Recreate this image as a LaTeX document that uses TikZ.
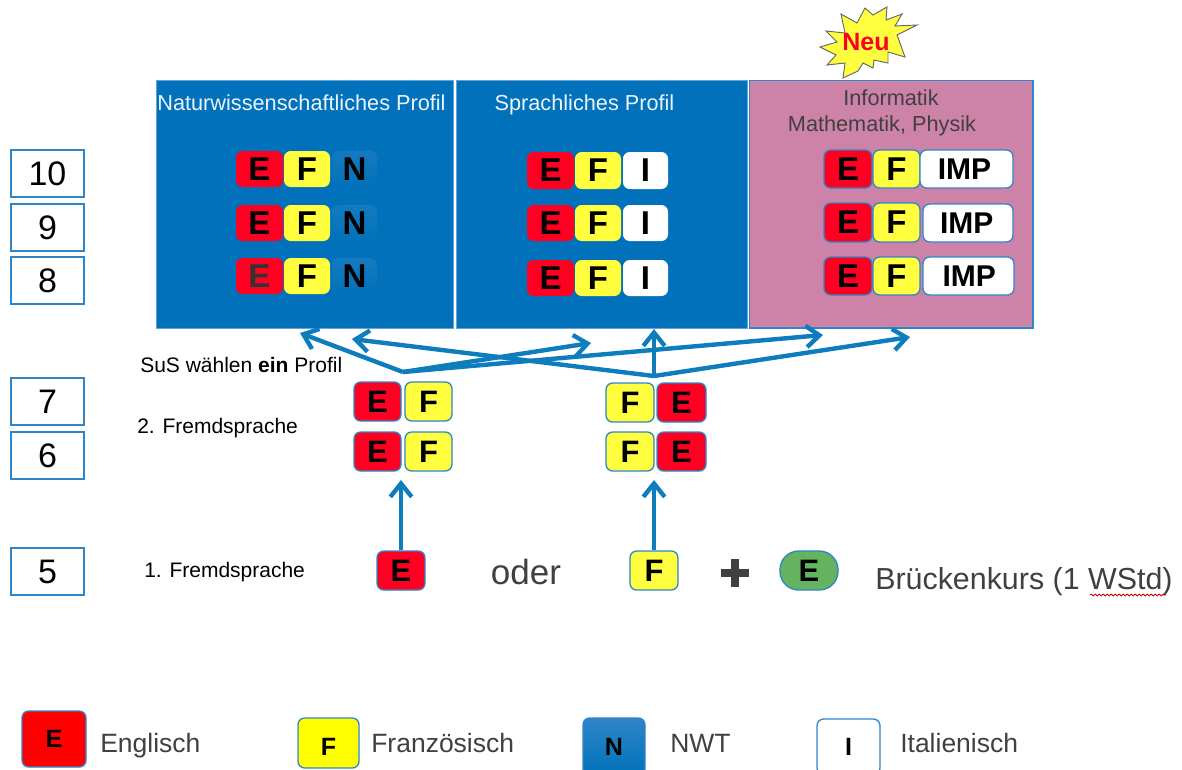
\documentclass[tikz,border=0pt]{standalone}
\usepackage{fontspec}
\setmainfont{Liberation Sans}
\usetikzlibrary{arrows.meta,decorations.pathmorphing}
\definecolor{panelblue}{HTML}{0071BA}
\definecolor{panelpink}{HTML}{CD82A8}
\definecolor{tred}{HTML}{FF0022}
\definecolor{tyellow}{HTML}{FFFF40}
\definecolor{pureyellow}{RGB}{255,255,0}
\definecolor{purered}{RGB}{255,0,0}
\definecolor{edgeblue}{HTML}{2E86C8}
\definecolor{arrowblue}{HTML}{0E7DBD}
\definecolor{txtgray}{HTML}{404040}
\definecolor{staryellow}{HTML}{FFFF40}
\definecolor{tgreen}{HTML}{66B35F}
\newcommand{\pxfont}[1]{\fontsize{\dimexpr #1pt*3/4\relax}{\dimexpr #1pt*9/10\relax}\selectfont}
\tikzset{
  x=0.75pt,y=-0.75pt,
  tilebase/.style={rounded corners=5pt,inner sep=0pt,font=\pxfont{33}\bfseries,text=black},
  redtile/.style={tilebase,fill=tred},
  yellowtile/.style={tilebase,fill=tyellow},
  nwttile/.style={tilebase,top color=edgeblue!45!panelblue,bottom color=panelblue},
  whitetile/.style={tilebase,fill=white},
  edged/.style={draw=edgeblue,line width=1pt},
  midfont/.style={font=\pxfont{31}\bfseries},
  impfont/.style={font=\pxfont{30}\bfseries},
  legendfont/.style={font=\pxfont{25}\bfseries},
  panel/.style={draw=edgeblue!75!white,line width=0.75pt,inner sep=0pt},
  yearbox/.style={draw=edgeblue,line width=1pt,fill=white,inner sep=0pt,font=\pxfont{34}},
  plainlabel/.style={inner sep=0pt,anchor=base west,font=\pxfont{21},text=black},
  legendlabel/.style={inner sep=0pt,anchor=base west,font=\pxfont{26.5},text=txtgray},
  title/.style={inner sep=0pt,anchor=base,font=\pxfont{21.7}},
  flow/.style={draw=arrowblue,line width=3.3pt,-{Straight Barb[length=10pt,width=16pt,line width=3.3pt]}},
}
% \boxat{style}{name}{x1}{y1}{x2}{y2}{text}
\newcommand{\boxat}[7]{%
  \pgfmathsetmacro{\bw}{(#5-#3)*0.75}\pgfmathsetmacro{\bh}{(#6-#4)*0.75}%
  \node[#1,minimum width=\bw pt,minimum height=\bh pt] (#2) at ({(#3+#5)/2},{(#4+#6)/2}) {#7};}
\begin{document}
\begin{tikzpicture}
\useasboundingbox (0,0) rectangle (1182,769);
% panels
\boxat{panel,fill=panelblue}{pn}{156.5}{80.5}{453}{328}{}
\boxat{panel,fill=panelblue}{ps}{456.5}{80.5}{747}{328}{}
\boxat{panel,fill=panelpink,draw=edgeblue,line width=1pt}{pi}{749.5}{80.5}{1033}{328}{}
\node[title,text=white!92!panelblue] (tn) at (301.5,110) {Naturwissenschaftliches Profil};
\node[title,text=white!92!panelblue] (ts) at (584.5,110) {Sprachliches Profil};
\node[title,text=txtgray] (ti1) at (891,105) {Informatik};
\node[title,text=txtgray] (ti2) at (882,131) {Mathematik, Physik};
% star
\draw[draw=gray!80!black,line width=0.7pt,fill=staryellow,line join=miter]
 (865,8)--(873,15)--(887,7)--(886,20)--(902,14)--(895,26)--(917,25)--(897,35)--(905,57)--(888,52)--(888,63)--(874,60)--(873,68)--(863,63)--(858,71)--(843,78)--(845,63)--(827,65)--(836,55)--(820,47)--(837,42)--(826,31)--(845,33)--(841,14)--(857,23)--cycle;
\node[inner sep=0pt,font=\pxfont{25}\bfseries,text=tred] (neu) at (866,42) {Neu};
% naturwissenschaftlich
\boxat{redtile}{ne1}{236}{151}{283}{187}{E}
\boxat{yellowtile}{nf1}{284}{151}{330}{187}{F}
\boxat{nwttile}{nn1}{332}{151}{377}{187}{N}
\boxat{redtile}{ne2}{236}{205}{283}{241}{E}
\boxat{yellowtile}{nf2}{284}{205}{330}{241}{F}
\boxat{nwttile}{nn2}{332}{205}{377}{241}{N}
\boxat{redtile,text=black!80}{ne3}{236}{258}{283}{294}{E}
\boxat{yellowtile}{nf3}{284}{258}{330}{294}{F}
\boxat{nwttile}{nn3}{332}{258}{377}{294}{N}
% sprachlich
\boxat{redtile}{se1}{527}{152}{574}{189}{E}
\boxat{yellowtile}{sf1}{575}{152}{621}{189}{F}
\boxat{whitetile}{si1}{623}{152}{668}{189}{I}
\boxat{redtile}{se2}{527}{205}{574}{241}{E}
\boxat{yellowtile}{sf2}{575}{205}{621}{241}{F}
\boxat{whitetile}{si2}{623}{205}{668}{241}{I}
\boxat{redtile}{se3}{527}{260}{574}{296}{E}
\boxat{yellowtile}{sf3}{575}{260}{621}{296}{F}
\boxat{whitetile}{si3}{623}{260}{668}{296}{I}
% IMP
\boxat{redtile,edged}{ie1}{824}{150}{872}{188}{E}
\boxat{yellowtile,edged}{if1}{873}{150}{920}{188}{F}
\boxat{whitetile,edged,impfont}{ii1}{920}{150}{1013}{188}{\hspace{-3pt}IMP}
\boxat{redtile,edged}{ie2}{824}{203}{872}{242}{E}
\boxat{yellowtile,edged}{if2}{873}{203}{920}{242}{F}
\boxat{whitetile,edged,impfont}{ii2}{923}{204}{1013}{242}{\hspace{-2pt}IMP}
\boxat{redtile,edged}{ie3}{824}{257}{872}{295}{E}
\boxat{yellowtile,edged}{if3}{873}{257}{920}{295}{F}
\boxat{whitetile,edged,impfont}{ii3}{923}{257}{1014}{295}{\hspace{1pt}IMP}
% year boxes
\boxat{yearbox}{y10}{11}{150}{84}{197}{10}
\boxat{yearbox}{y9}{11}{204}{84}{251}{9}
\boxat{yearbox}{y8}{11}{257}{84}{304}{8}
\boxat{yearbox}{y7}{11}{378}{84}{425}{7}
\boxat{yearbox}{y6}{11}{432}{84}{479}{6}
\boxat{yearbox}{y5}{11}{548}{84}{595}{5}
% labels
\node[plainlabel] (lsus) at (140,372) {SuS wählen \textbf{ein} Profil};
\node[plainlabel] (lzwei) at (137,433) {2. Fremdsprache};
\node[plainlabel] (leins) at (144,577) {1. Fremdsprache};
% middle tiles
\boxat{redtile,edged,midfont}{me1}{354}{382}{401}{421}{E}
\boxat{yellowtile,edged,midfont}{mf1}{405}{382}{452}{421}{F}
\boxat{redtile,edged,midfont}{me2}{354}{432}{401}{471}{E}
\boxat{yellowtile,edged,midfont}{mf2}{405}{432}{452}{471}{F}
\boxat{yellowtile,edged,midfont}{rf1}{606}{383}{654}{422}{F}
\boxat{redtile,edged,midfont}{re1}{657}{383}{706}{422}{E}
\boxat{yellowtile,edged,midfont}{rf2}{606}{432}{654}{471}{F}
\boxat{redtile,edged,midfont}{re2}{657}{432}{706}{471}{E}
% bottom row
\boxat{redtile,edged,midfont}{be}{377}{551}{425}{590}{E}
\boxat{yellowtile,edged,midfont}{bf}{630}{551}{678}{590}{F}
\boxat{tilebase,fill=tgreen,edged,midfont,rounded corners=14pt}{bg}{780}{551}{838}{590}{E}
\node[inner sep=0pt,anchor=base,font=\pxfont{35},text=txtgray] (oder) at (526,584) {oder};
\node[inner sep=0pt,anchor=base west,font=\pxfont{30.4},text=txtgray] (bk) at (875,589) {Brückenkurs (1 WStd)};
\coordinate (sqa) at (1090,595);
\coordinate (sqb) at (1166,595);
\draw[red!80!black,line width=0.6pt,decorate,decoration={snake,amplitude=0.7pt,segment length=3pt}] (sqa) -- (sqb);
\node[inner sep=0pt,minimum width=21pt,minimum height=5.5pt,fill=txtgray] (plusa) at (735,573) {};
\node[inner sep=0pt,minimum width=5.5pt,minimum height=21pt,fill=txtgray] (plusb) at (735,573) {};
% connectors
\coordinate (srcl) at (403,372);
\coordinate (srcr) at (654,376);
\coordinate (al1) at (300,333);
\coordinate (al2) at (591,343);
\coordinate (al3) at (823,335);
\coordinate (ar1) at (352,339);
\coordinate (ar2) at (654,329);
\coordinate (ar3) at (910,337);
\foreach \t in {al1,al2,al3} \draw[flow] (srcl) -- (\t);
\foreach \t in {ar1,ar2,ar3} \draw[flow] (srcr) -- (\t);
\coordinate (upa) at (401,480);
\coordinate (upb) at (654,480);
\draw[flow] (be.north) -- (upa);
\draw[flow] (bf.north) -- (upb);
% legend
\boxat{tilebase,fill=purered,edged,legendfont}{le}{22}{711}{86}{767}{E}
\boxat{tilebase,fill=pureyellow,edged,legendfont}{lf}{298}{718}{359}{768}{\raisebox{-3pt}[\height][0pt]{F}}
\boxat{tilebase,top color=edgeblue,bottom color=panelblue,edged,legendfont}{ln}{583}{718}{645}{776}{N}
\boxat{whitetile,edged,legendfont}{li}{817}{719}{880}{775}{I}
\node[legendlabel] (tle) at (100,752) {Englisch};
\node[legendlabel] (tlf) at (371,752) {Französisch};
\node[legendlabel] (tln) at (670,752) {NWT};
\node[legendlabel] (tli) at (900,752) {Italienisch};
\end{tikzpicture}
\end{document}
